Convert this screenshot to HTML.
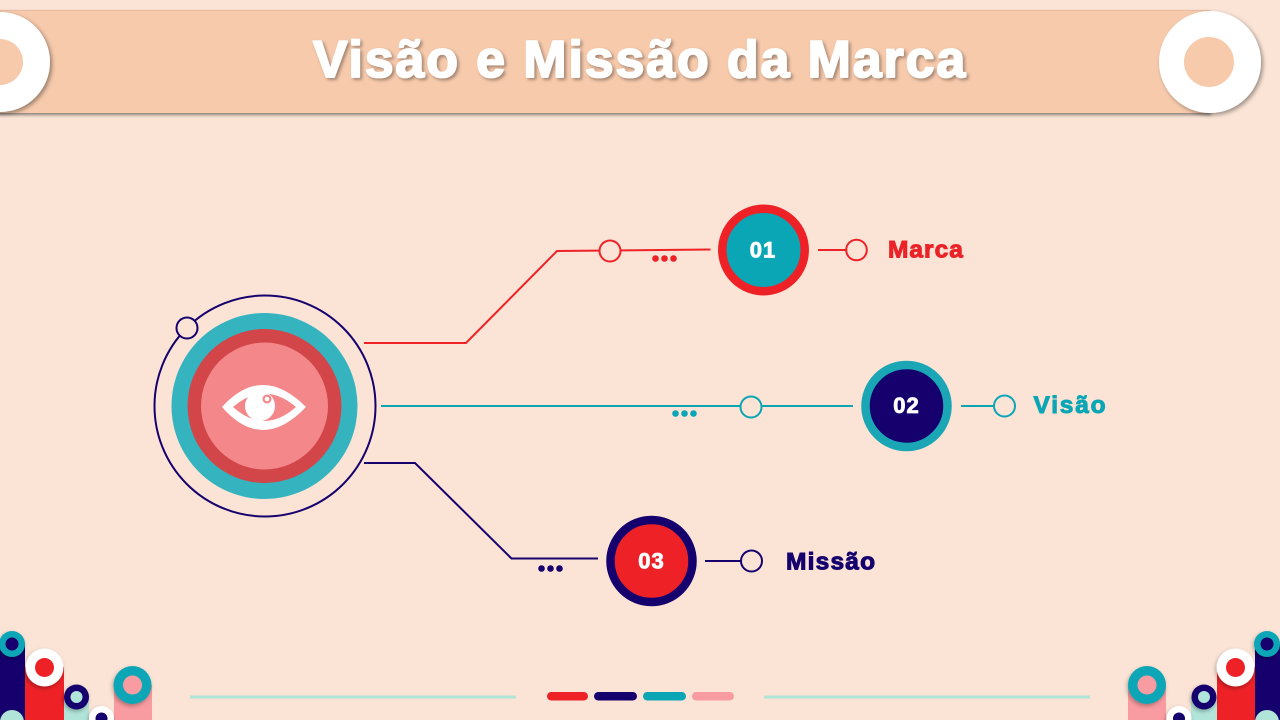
<!DOCTYPE html>
<html>
<head>
<meta charset="utf-8">
<style>
  html,body{margin:0;padding:0;width:1280px;height:720px;overflow:hidden;background:#FBE4D6;}
  svg{display:block;}
</style>
</head>
<body>
<svg width="1280" height="720" viewBox="0 0 1280 720" xmlns="http://www.w3.org/2000/svg">
  <defs>
    <filter id="sh" x="-30%" y="-30%" width="160%" height="160%">
      <feDropShadow dx="2" dy="2" stdDeviation="2" flood-color="#000" flood-opacity="0.38"/>
    </filter>
    <filter id="shb" x="-5%" y="-20%" width="110%" height="150%">
      <feDropShadow dx="1" dy="2" stdDeviation="1.5" flood-color="#000" flood-opacity="0.45"/>
    </filter>
    <filter id="tsh" x="-5%" y="-30%" width="110%" height="160%">
      <feDropShadow dx="2" dy="2" stdDeviation="1.5" flood-color="#000" flood-opacity="0.35"/>
    </filter>
    <filter id="ssh" x="-40%" y="-40%" width="180%" height="180%">
      <feDropShadow dx="-1" dy="2" stdDeviation="2" flood-color="#000" flood-opacity="0.3"/>
    </filter>
  </defs>

  <rect x="0" y="0" width="1280" height="720" fill="#FBE4D6"/>

  <!-- Banner -->
  <rect x="-5" y="10" width="1215" height="103" fill="#F7CAAC" filter="url(#shb)"/>
  <line x1="0" y1="10.5" x2="1210" y2="10.5" stroke="#E9BBA0" stroke-width="1"/>

  <!-- Banner rings -->
  <g filter="url(#sh)">
    <circle cx="0" cy="62" r="50" fill="#FFFFFF"/>
  </g>
  <circle cx="0" cy="62" r="23" fill="#F7CAAC"/>
  <g filter="url(#sh)">
    <circle cx="1210" cy="62" r="51" fill="#FFFFFF"/>
  </g>
  <circle cx="1209" cy="62" r="25" fill="#F7CAAC"/>

  <!-- Title -->
  <text x="640" y="77" text-anchor="middle" font-family="Liberation Sans, Arial, sans-serif" font-weight="bold" font-size="52" letter-spacing="1.85" fill="#FFFFFF" stroke="#FFFFFF" stroke-width="1.8" stroke-linejoin="round" filter="url(#tsh)">Visão e Missão da Marca</text>

  <!-- Central icon -->
  <circle cx="265" cy="406" r="110.5" fill="none" stroke="#15006E" stroke-width="2"/>
  <circle cx="264.5" cy="406" r="93" fill="#35B4BF"/>
  <circle cx="264.5" cy="406" r="77" fill="#D24549"/>
  <circle cx="264.5" cy="406" r="63.5" fill="#F4878A"/>
  <circle cx="187" cy="328" r="10.5" fill="#FBE4D6" stroke="#15006E" stroke-width="2"/>
  <!-- eye -->
  <path d="M222,407 Q262,363 306,407 Q262,453 222,407 Z" fill="#FFFFFF"/>
  <path d="M233,407 Q264,380 296,407 Q264,435 233,407 Z" fill="#F4878A"/>
  <circle cx="260" cy="406" r="15" fill="#FFFFFF"/>
  <circle cx="267" cy="399" r="4.5" fill="#F4878A"/>
  <circle cx="267" cy="399" r="2.3" fill="#FFFFFF"/>

  <!-- Red connector -->
  <polyline points="364,343 466,343 557,251 710.5,249.5" fill="none" stroke="#EE2226" stroke-width="2"/>
  <circle cx="610" cy="251" r="10.5" fill="#FBE4D6" stroke="#EE2226" stroke-width="2"/>
  <circle cx="655.5" cy="258.5" r="3.3" fill="#EE2226"/>
  <circle cx="664.5" cy="258.5" r="3.3" fill="#EE2226"/>
  <circle cx="673.5" cy="258.5" r="3.3" fill="#EE2226"/>
  <circle cx="763.5" cy="250" r="41.2" fill="#0BA6B6" stroke="#EE2226" stroke-width="8.5"/>
  <text x="763" y="257.5" text-anchor="middle" font-family="Liberation Sans, Arial, sans-serif" font-weight="bold" font-size="22" letter-spacing="1" fill="#FFFFFF" stroke="#FFFFFF" stroke-width="0.8">01</text>
  <line x1="818" y1="250" x2="846" y2="250" stroke="#EE2226" stroke-width="2"/>
  <circle cx="856.5" cy="250" r="10.3" fill="#FBE4D6" stroke="#EE2226" stroke-width="2"/>
  <text x="888" y="257.5" font-family="Liberation Sans, Arial, sans-serif" font-weight="bold" font-size="24.5" letter-spacing="1" fill="#EB2227" stroke="#EB2227" stroke-width="1">Marca</text>

  <!-- Teal connector -->
  <line x1="381" y1="406" x2="853" y2="406" stroke="#0BA6B6" stroke-width="2"/>
  <circle cx="751" cy="407" r="10.5" fill="#FBE4D6" stroke="#0BA6B6" stroke-width="2"/>
  <circle cx="675.5" cy="413.5" r="3.3" fill="#0BA6B6"/>
  <circle cx="684.5" cy="413.5" r="3.3" fill="#0BA6B6"/>
  <circle cx="693.5" cy="413.5" r="3.3" fill="#0BA6B6"/>
  <circle cx="906.5" cy="406" r="41" fill="#15006E" stroke="#1AA6B4" stroke-width="8.5"/>
  <text x="906.5" y="413" text-anchor="middle" font-family="Liberation Sans, Arial, sans-serif" font-weight="bold" font-size="22" letter-spacing="1" fill="#FFFFFF" stroke="#FFFFFF" stroke-width="0.8">02</text>
  <line x1="961" y1="406" x2="994" y2="406" stroke="#0BA6B6" stroke-width="2"/>
  <circle cx="1004.5" cy="406" r="10.5" fill="#FBE4D6" stroke="#0BA6B6" stroke-width="2"/>
  <text x="1033.5" y="413" font-family="Liberation Sans, Arial, sans-serif" font-weight="bold" font-size="24.5" letter-spacing="1.8" fill="#0BA6B6" stroke="#0BA6B6" stroke-width="1">Visão</text>

  <!-- Navy connector -->
  <polyline points="364,463 415,463 511.5,558.5 598,558.5" fill="none" stroke="#15006E" stroke-width="2"/>
  <circle cx="541.5" cy="568.5" r="3.3" fill="#15006E"/>
  <circle cx="550.5" cy="568.5" r="3.3" fill="#15006E"/>
  <circle cx="559.5" cy="568.5" r="3.3" fill="#15006E"/>
  <circle cx="651.5" cy="561" r="41" fill="#EE2226" stroke="#15006E" stroke-width="8.5"/>
  <text x="651.5" y="568.5" text-anchor="middle" font-family="Liberation Sans, Arial, sans-serif" font-weight="bold" font-size="22" letter-spacing="1" fill="#FFFFFF" stroke="#FFFFFF" stroke-width="0.8">03</text>
  <line x1="705" y1="561" x2="741" y2="561" stroke="#15006E" stroke-width="2"/>
  <circle cx="751.5" cy="561" r="10.5" fill="#FBE4D6" stroke="#15006E" stroke-width="2"/>
  <text x="786" y="569.5" font-family="Liberation Sans, Arial, sans-serif" font-weight="bold" font-size="24.5" letter-spacing="1.2" fill="#15006E" stroke="#15006E" stroke-width="1">Missão</text>

  <!-- Bottom lines and pills -->
  <line x1="190" y1="697" x2="516" y2="697" stroke="#B2E5DA" stroke-width="3"/>
  <line x1="764" y1="697" x2="1090" y2="697" stroke="#B2E5DA" stroke-width="3"/>
  <rect x="547" y="692" width="41" height="8.5" rx="4.2" fill="#EE2226"/>
  <rect x="594" y="692" width="43" height="8.5" rx="4.2" fill="#15006E"/>
  <rect x="643" y="692" width="43" height="8.5" rx="4.2" fill="#0BA6B6"/>
  <rect x="692" y="692" width="42" height="8.5" rx="4.2" fill="#F99CA1"/>

  <!-- Bottom-left decoration -->
  <rect x="0" y="643" width="25" height="77" fill="#15006E"/>
  <rect x="25" y="667" width="39" height="53" fill="#EE2226"/>
  <rect x="64" y="697" width="25" height="23" fill="#B2E5DA"/>
  <rect x="114" y="685" width="38" height="35" fill="#F99CA1"/>
  <g filter="url(#ssh)">
    <circle cx="12" cy="644" r="13" fill="#0BA6B6"/>
  </g>
  <circle cx="12" cy="644" r="6.5" fill="#15006E"/>
  <g filter="url(#ssh)">
    <circle cx="12" cy="722" r="12" fill="#B2E5DA"/>
  </g>
  <g filter="url(#ssh)">
    <circle cx="44.5" cy="667.5" r="19" fill="#FFFFFF"/>
  </g>
  <circle cx="44.5" cy="667.5" r="9.5" fill="#EE2226"/>
  <g filter="url(#ssh)">
    <circle cx="76.5" cy="697" r="12.5" fill="#15006E"/>
  </g>
  <circle cx="76.5" cy="697" r="6" fill="#B2E5DA"/>
  <g filter="url(#ssh)">
    <circle cx="101.5" cy="718.5" r="12.5" fill="#FFFFFF"/>
  </g>
  <circle cx="101.5" cy="718.5" r="6" fill="#15006E"/>
  <g filter="url(#ssh)">
    <circle cx="132.5" cy="685" r="19" fill="#0BA6B6"/>
  </g>
  <circle cx="132.5" cy="685" r="9.5" fill="#F99CA1"/>

  <!-- Bottom-right decoration -->
  <rect x="1128" y="685" width="38" height="35" fill="#F99CA1"/>
  <rect x="1191" y="697" width="26" height="23" fill="#B2E5DA"/>
  <rect x="1217" y="667" width="38" height="53" fill="#EE2226"/>
  <rect x="1255" y="644" width="25" height="76" fill="#15006E"/>
  <g filter="url(#ssh)">
    <circle cx="1147" cy="685" r="19" fill="#0BA6B6"/>
  </g>
  <circle cx="1147" cy="685" r="9.5" fill="#F99CA1"/>
  <g filter="url(#ssh)">
    <circle cx="1179" cy="718.5" r="12.5" fill="#FFFFFF"/>
  </g>
  <circle cx="1179" cy="718.5" r="6" fill="#15006E"/>
  <g filter="url(#ssh)">
    <circle cx="1204" cy="697" r="12.5" fill="#15006E"/>
  </g>
  <circle cx="1204" cy="697" r="6" fill="#B2E5DA"/>
  <g filter="url(#ssh)">
    <circle cx="1235.5" cy="667.5" r="19" fill="#FFFFFF"/>
  </g>
  <circle cx="1235.5" cy="667.5" r="9.5" fill="#EE2226"/>
  <g filter="url(#ssh)">
    <circle cx="1267" cy="644" r="13" fill="#0BA6B6"/>
  </g>
  <circle cx="1267" cy="644" r="6.5" fill="#15006E"/>
  <g filter="url(#ssh)">
    <circle cx="1267" cy="722" r="12" fill="#B2E5DA"/>
  </g>
</svg>
</body>
</html>
